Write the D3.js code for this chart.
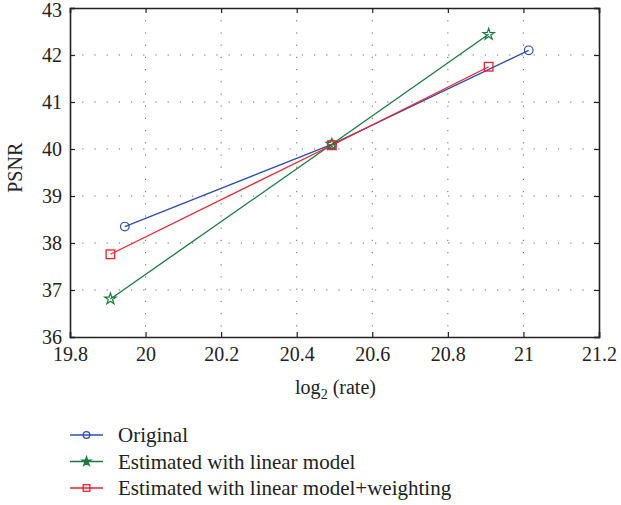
<!DOCTYPE html>
<html>
<head>
<meta charset="utf-8">
<script src="https://cdn.jsdelivr.net/npm/d3@7"></script>
<style>
  body { margin: 0; background: #fff; }
  svg text { font-family: "Liberation Serif", "DejaVu Serif", serif; fill: #222; }
</style>
</head>
<body>
<div id="chart"></div>
<script>
// Data
const xTicks = [19.8, 20, 20.2, 20.4, 20.6, 20.8, 21, 21.2];
const yTicks = [36, 37, 38, 39, 40, 41, 42, 43];

const original = [[19.945, 38.35], [20.493, 40.1], [21.014, 42.1]];
const linearModel = [[19.907, 36.81], [20.493, 40.1], [20.908, 42.44]];
const weighted = [[19.907, 37.76], [20.493, 40.08], [20.908, 41.75]];

const seriesNames = ['Original', 'Estimated with linear model', 'Estimated with linear model+weighting'];
const seriesColors = ['#2e4fad', '#1a7a3c', '#f0222e'];
const seriesMarkers = ['circle', 'star', 'square'];

const width = 621, height = 505;
const margin = { top: 8, right: 22, bottom: 168, left: 70 };
const chartWidth = width - margin.left - margin.right;
const chartHeight = height - margin.top - margin.bottom;

const svg = d3.select('#chart').append('svg')
    .attr('width', width)
    .attr('height', height);

const g = svg.append('g')
    .attr('transform', `translate(${margin.left},${margin.top})`);

const xScale = d3.scaleLinear().domain([19.8, 21.2]).range([0, chartWidth]);
const yScale = d3.scaleLinear().domain([36, 43]).range([chartHeight, 0]);

// Grid lines
g.append('g').selectAll('line')
    .data(xTicks.slice(1, -1))
    .enter().append('line')
    .attr('x1', d => xScale(d)).attr('x2', d => xScale(d))
    .attr('y1', 0).attr('y2', chartHeight)
    .attr('stroke', '#666').attr('stroke-width', 1)
    .attr('stroke-dasharray', '1.2,11');

g.append('g').selectAll('line')
    .data(yTicks.slice(1, -1))
    .enter().append('line')
    .attr('y1', d => yScale(d)).attr('y2', d => yScale(d))
    .attr('x1', 0).attr('x2', chartWidth)
    .attr('stroke', '#666').attr('stroke-width', 1)
    .attr('stroke-dasharray', '1.2,11');

// Axes (ticks on all four sides, pointing inward)
const fontSize = 20;
const xAxis = g.append('g')
    .attr('transform', `translate(0,${chartHeight})`)
    .call(d3.axisBottom(xScale).tickValues(xTicks).tickSize(-5).tickPadding(10).tickFormat(d3.format('')));
const yAxis = g.append('g')
    .call(d3.axisLeft(yScale).tickValues(yTicks).tickSize(-5).tickPadding(8).tickFormat(d3.format('')));
g.append('g')
    .call(d3.axisTop(xScale).tickValues(xTicks).tickSize(-5).tickFormat(''));
g.append('g')
    .attr('transform', `translate(${chartWidth},0)`)
    .call(d3.axisRight(yScale).tickValues(yTicks).tickSize(-5).tickFormat(''));

g.selectAll('.domain').attr('stroke', '#222').attr('stroke-width', 1.6);
g.selectAll('.tick line').attr('stroke', '#222').attr('stroke-width', 1.2);
[xAxis, yAxis].forEach(a => a.selectAll('text')
    .style('font-family', '"Liberation Serif", "DejaVu Serif", serif')
    .style('font-size', fontSize + 'px')
    .attr('fill', '#222'));
// keep the top label inside the page
yAxis.selectAll('.tick').filter(d => d === 43).select('text').attr('dy', '0.42em');

// Axis labels
const xLabel = g.append('text')
    .attr('x', chartWidth / 2 + 1)
    .attr('y', chartHeight + 57)
    .attr('text-anchor', 'middle')
    .style('font-size', '20px');
xLabel.append('tspan').text('log');
xLabel.append('tspan').attr('dy', 5).style('font-size', '14px').text('2');
xLabel.append('tspan').attr('dy', -5).text(' (rate)');

g.append('text')
    .attr('transform', 'rotate(-90)')
    .attr('x', -yScale(39.6))
    .attr('y', -48)
    .attr('text-anchor', 'middle')
    .style('font-size', '20px')
    .text('PSNR');

// Markers
function drawMarker(sel, type, color, size, filled) {
    if (type === 'circle') {
        sel.append('circle').attr('r', size).attr('fill', 'none')
            .attr('stroke', color).attr('stroke-width', 1.2);
    } else if (type === 'square') {
        sel.append('rect').attr('x', -size).attr('y', -size)
            .attr('width', size * 2).attr('height', size * 2)
            .attr('fill', 'none').attr('stroke', color).attr('stroke-width', 1.3);
    } else {
        sel.append('path').attr('d', d3.symbol(d3.symbolStar, size * size * 1.6)())
            .attr('fill', filled ? color : 'none').attr('stroke', color).attr('stroke-width', 1.2);
    }
}

const line = d3.line().x(d => xScale(d[0])).y(d => yScale(d[1]));
const allSeries = [original, linearModel, weighted];
allSeries.forEach((data, i) => {
    g.append('path')
        .datum(data)
        .attr('d', line)
        .attr('fill', 'none')
        .attr('stroke', seriesColors[i])
        .attr('stroke-width', 1.3);
});
allSeries.forEach((data, i) => {
    data.forEach(p => {
        const m = g.append('g').attr('transform', `translate(${xScale(p[0])},${yScale(p[1])})`);
        drawMarker(m, seriesMarkers[i], seriesColors[i], seriesMarkers[i] === 'star' ? 5 : 4.3, false);
    });
});

// Legend
const legend = svg.append('g').attr('transform', 'translate(70,435)');
const rowY = [0, 26.5, 53];
seriesNames.forEach((name, i) => {
    const row = legend.append('g').attr('transform', `translate(0,${rowY[i]})`);
    row.append('line').attr('x1', 0).attr('x2', 33).attr('y1', 0).attr('y2', 0)
        .attr('stroke', seriesColors[i]).attr('stroke-width', 1.3);
    const m = row.append('g').attr('transform', 'translate(16.5,0)');
    drawMarker(m, seriesMarkers[i], seriesColors[i], seriesMarkers[i] === 'star' ? 4 : 3.3, true);
    row.append('text').attr('x', 48).attr('y', 7)
        .style('font-size', '21px')
        .text(name);
});
</script>
</body>
</html>
